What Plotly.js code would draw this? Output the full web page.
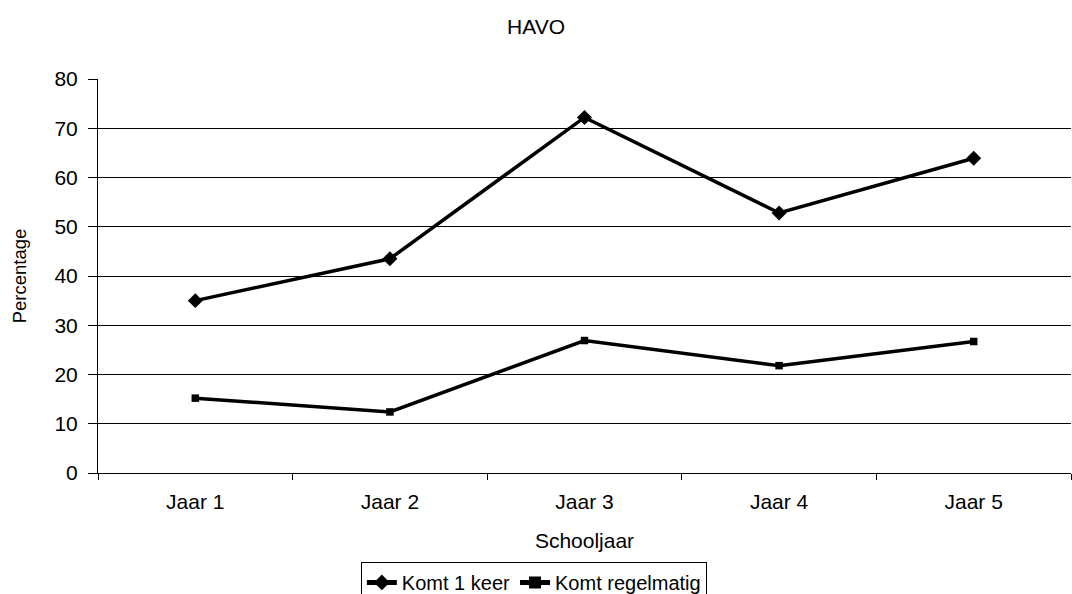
<!DOCTYPE html>
<html>
<head>
<meta charset="utf-8">
<script src="https://cdn.plot.ly/plotly-3.0.1.min.js"></script>
<style>html,body{margin:0;padding:0;background:#fff;}#chart{width:1072px;height:594px;}</style>
</head>
<body>
<div id="chart"></div>
<script>
const categories = ["Jaar 1", "Jaar 2", "Jaar 3", "Jaar 4", "Jaar 5"];
const komtEenKeer = [35, 43.5, 72.2, 52.8, 63.9];
const komtRegelmatig = [15.2, 12.4, 26.9, 21.8, 26.7];
const yTicks = [0, 10, 20, 30, 40, 50, 60, 70, 80];

const font = {family: "Liberation Sans, Arial, sans-serif", color: "#000"};
const f = (s) => Object.assign({size: s}, font);

const traces = [
  {
    x: categories, y: komtEenKeer, name: "Komt 1 keer", type: "scatter", mode: "lines+markers",
    line: {color: "#000", width: 3.5}, marker: {symbol: "diamond", size: 11.5, color: "#000"}
  },
  {
    x: categories, y: komtRegelmatig, name: "Komt regelmatig", type: "scatter", mode: "lines+markers",
    line: {color: "#000", width: 3.5}, marker: {symbol: "square", size: 7.5, color: "#000"}
  }
];

const layout = {
  width: 1072, height: 594,
  margin: {l: 98, r: 1, t: 79, b: 121, autoexpand: false},
  paper_bgcolor: "#fff", plot_bgcolor: "#fff",
  font: f(21),
  title: {text: "HAVO", x: 0.5, xanchor: "center", y: 0.955, yanchor: "middle", font: f(21)},
  showlegend: true,
  legend: {
    orientation: "h", x: 0.498, xanchor: "center", xref: "container",
    y: 0.054, yanchor: "top", yref: "container",
    bordercolor: "#000", borderwidth: 1, font: f(20),
    tracegroupgap: 0, itemsizing: "constant"
  },
  xaxis: {
    type: "category", range: [-0.5, 4.5], tickson: "boundaries",
    showgrid: false, zeroline: false, showline: true, linecolor: "#000", linewidth: 1,
    ticks: "outside", ticklen: 6, tickcolor: "#000", automargin: false,
    ticklabelstandoff: 10,
    tickfont: f(21),
    title: {text: "Schooljaar", font: f(21), standoff: 21}
  },
  yaxis: {
    range: [0, 80], tickvals: yTicks, ticktext: yTicks.map(String),
    showgrid: true, gridcolor: "#000", gridwidth: 1,
    zeroline: false, showline: true, linecolor: "#000", linewidth: 1,
    ticks: "outside", ticklen: 9, tickcolor: "#000", automargin: false,
    ticklabelstandoff: 6,
    tickfont: f(21),
    title: {text: "Percentage", font: f(18.5), standoff: 22}
  }
};

Plotly.newPlot("chart", traces, layout, {displayModeBar: false, staticPlot: true});
</script>
</body>
</html>
